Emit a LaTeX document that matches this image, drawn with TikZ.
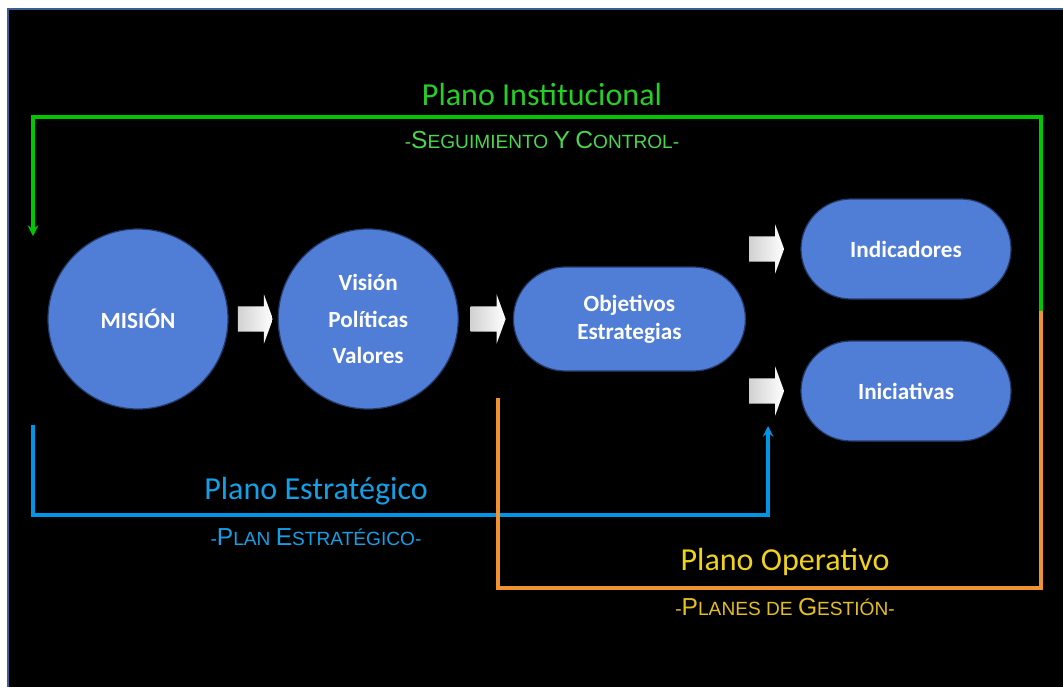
\documentclass[tikz,border=0pt]{standalone}
\usepackage{fontspec}
\setmainfont{Carlito}
\newfontfamily\capsfont{Liberation Sans}
\usetikzlibrary{positioning,calc,shapes.misc,shapes.arrows}
\definecolor{shapeblue}{RGB}{80, 125, 213}
\definecolor{shapeedge}{RGB}{35, 60, 110}
\definecolor{frameblue}{RGB}{60, 95, 145}
\definecolor{instgreen}{RGB}{0, 200, 0}
\definecolor{insttextgreen}{RGB}{40, 205, 40}
\definecolor{instcapsgreen}{RGB}{75, 215, 75}
\definecolor{estrblue}{RGB}{0, 150, 230}
\definecolor{estrtextblue}{RGB}{20, 160, 230}
\definecolor{operorange}{RGB}{240, 145, 50}
\definecolor{opertextyellow}{RGB}{240, 210, 30}
\definecolor{opercapsyellow}{RGB}{230, 190, 30}
\newcommand{\bigsc}[1]{{\fontsize{17.5}{20}\selectfont #1}}

\begin{document}
\begin{tikzpicture}[x=0.25mm, y=-0.25mm,
circlenode/.style={circle, draw=shapeedge, fill=shapeblue, line width=0.3mm, minimum size=45mm, inner sep=0pt, text=white, align=center, font=\bfseries\fontsize{16.5}{26}\selectfont},
pillnode/.style={rounded rectangle, draw=shapeedge, fill=shapeblue, line width=0.3mm, inner sep=0pt, text=white, align=center, font=\bfseries\fontsize{16.5}{20}\selectfont},
blockarrow/.style={single arrow, single arrow head extend=3mm, single arrow tip angle=140, minimum height=8.75mm, inner xsep=0pt, inner ysep=3.1mm, left color=black!18, middle color=white, right color=white, draw=none},
planetitle/.style={font=\fontsize{22.8}{27}\selectfont},
planecaps/.style={font=\capsfont\fontsize{13.6}{16}\selectfont},
arrow/.style={->, line width=0.8mm, >=stealth}
]
%Background
\useasboundingbox[fill=white] (0,0) rectangle (1063,687);
\fill[black] (8,9) rectangle (1063,687);
\draw[frameblue, line width=0.6mm] (8,687) -- (8,9) -- (1063,9);

%Nodes
%Nodes circles
\node[circlenode] (mision_node) at (138,319) {MISIÓN};
\node[circlenode] (vision_node) [right=12.25mm of mision_node] {Visión\\Políticas\\Valores};

%Nodes pills
\node[pillnode, minimum width=58mm, minimum height=26mm] (objetivos_node) [right=13.5mm of vision_node] {Objetivos\\Estrategias};
\node[pillnode, minimum width=52.5mm, minimum height=25mm] (indicadores_node) at (906,249) {Indicadores};
\node[pillnode, minimum width=52.5mm, minimum height=25mm] (iniciativas_node) at (906,391) {Iniciativas};

%Nodes block arrows
\node[blockarrow] (block_arrow_1) at ($(mision_node.east)!0.5!(vision_node.west)$) {};
\node[blockarrow] (block_arrow_2) at ($(vision_node.east)!0.5!(objetivos_node.west)$) {};
\node[blockarrow] (block_arrow_3) [left=4mm of indicadores_node] {};
\node[blockarrow] (block_arrow_4) [left=4mm of iniciativas_node] {};

%Nodes labels
\node[planetitle, text=insttextgreen] (inst_title) at (542,94) {Plano Institucional};
\node[planecaps, text=instcapsgreen] (inst_caps) at (542,140) {-\bigsc{S}EGUIMIENTO \bigsc{Y} \bigsc{C}ONTROL-};
\node[planetitle, text=estrtextblue] (estr_title) at (316,491) {Plano Estratégico};
\node[planecaps, text=estrtextblue] (estr_caps) at (316,537) {-\bigsc{P}LAN \bigsc{E}STRATÉGICO-};
\node[planetitle, text=opertextyellow] (oper_title) at (785,562) {Plano Operativo};
\node[planecaps, text=opercapsyellow] (oper_caps) at (785,607) {-\bigsc{P}LANES DE \bigsc{G}ESTIÓN-};

%Coordinates
\coordinate (right_join) at (1041,311);
\coordinate (inst_corner) at (33,117);
\coordinate (mision_in) at (33,236);
\coordinate (estr_start) at (33,425);
\coordinate (estr_corner) at (768,515);
\coordinate (iniciativas_in) at (768,426);
\coordinate (oper_start) at (498,398);
\coordinate (oper_corner) at (1041,588);

%Arrow
%Arrow plano institucional
\draw[arrow, instgreen] (right_join) |- (inst_corner) -- (mision_in);
%Arrow plano estrategico
\draw[arrow, estrblue] (estr_start) |- (estr_corner) -- (iniciativas_in);
%Line plano operativo
\draw[line width=0.8mm, operorange] (oper_start) |- (oper_corner) -- (right_join);

\end{tikzpicture}
\end{document}
